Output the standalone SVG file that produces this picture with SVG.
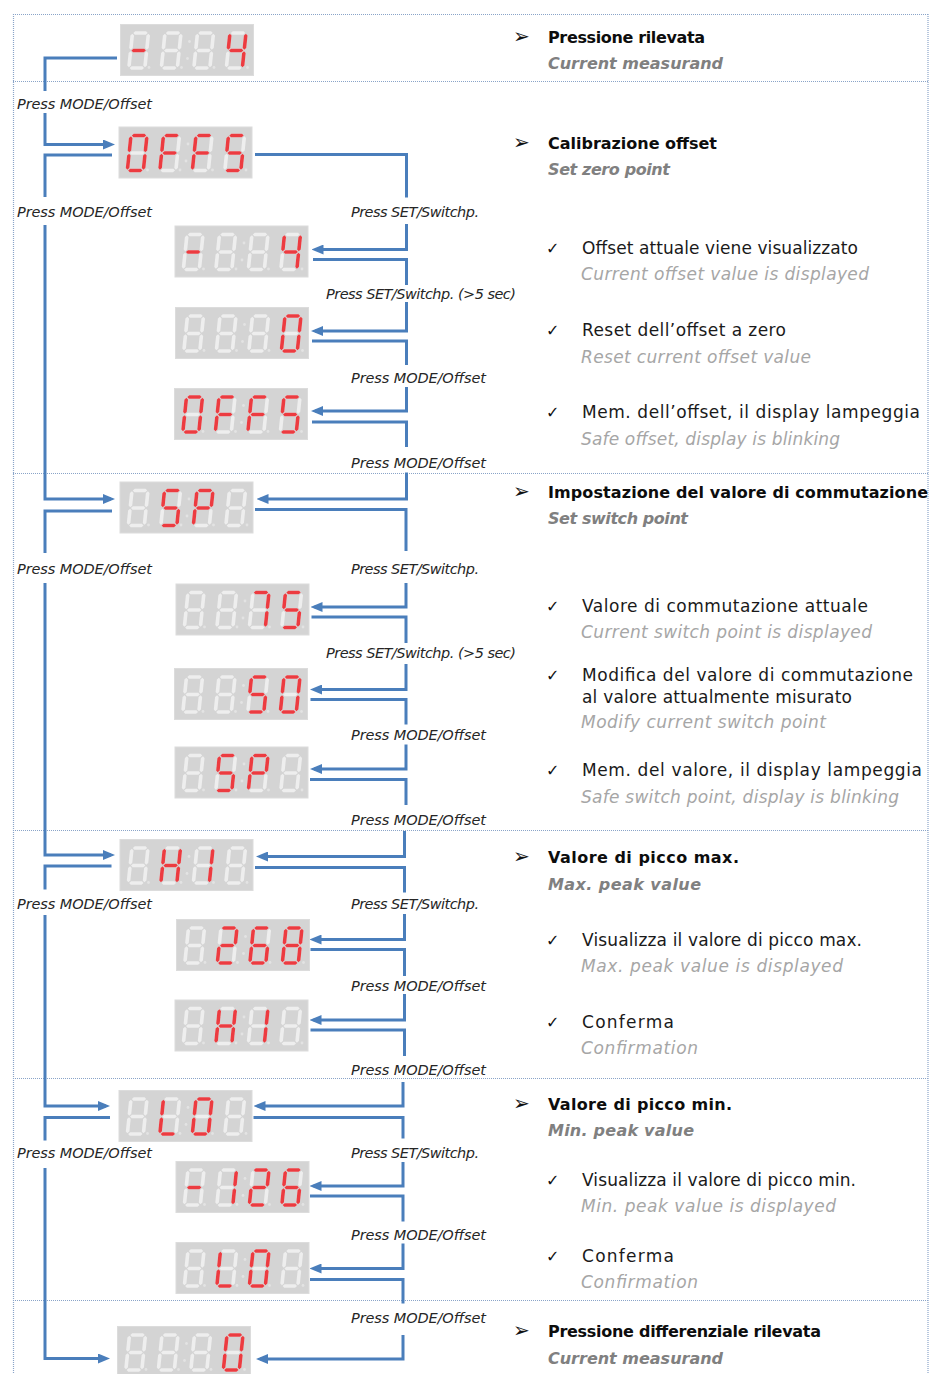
<svg xmlns="http://www.w3.org/2000/svg" xmlns:xlink="http://www.w3.org/1999/xlink" width="930" height="1374" viewBox="0 0 930 1374">
<style>
.frame{fill:none;stroke:#8aa4c8;stroke-width:1.2;stroke-dasharray:1 1}
.cn{fill:none;stroke:#4a7ebb;stroke-width:3}
.cn.ar{marker-end:url(#ah)}
.panel{fill:#d4d4d4;stroke:#dcdcdc;stroke-width:1}
.lbl{font-family:"DejaVu Sans","Liberation Sans",sans-serif;font-style:italic;font-size:14.5px;fill:#262626}
.hd{font-family:"DejaVu Sans","Liberation Sans",sans-serif;font-weight:bold;font-size:16px;fill:#0d0d0d}
.sub{font-family:"DejaVu Sans","Liberation Sans",sans-serif;font-weight:bold;font-style:italic;font-size:16px;fill:#808080}
.it{font-family:"DejaVu Sans","Liberation Sans",sans-serif;font-size:17px;fill:#1a1a1a}
.en{font-family:"DejaVu Sans","Liberation Sans",sans-serif;font-style:italic;font-size:17px;fill:#a6a6a6}
.bul{font-family:"DejaVu Sans",sans-serif;font-size:20px;fill:#111}
.chk{font-family:"DejaVu Sans",sans-serif;font-size:16px;fill:#111}
</style>
<defs>
<marker id="ah" viewBox="0 0 12 10" refX="8" refY="5" markerWidth="12" markerHeight="10" markerUnits="userSpaceOnUse" orient="auto"><path d="M0,0 L12,5 L0,10 z" fill="#4a7ebb"/></marker>
<polygon id="H" points="0.8,0 2.6,-1.8 13.4,-1.8 15.2,0 13.4,1.8 2.6,1.8"/>
<polygon id="V" points="0,0.8 1.8,2.6 1.8,14.9 0,16.7 -1.8,14.9 -1.8,2.6"/>
<use id="sA" href="#H"/>
<use id="sB" href="#V" transform="translate(16,0)"/>
<use id="sC" href="#V" transform="translate(16,17.5)"/>
<use id="sD" href="#H" transform="translate(0,35)"/>
<use id="sE" href="#V" transform="translate(0,17.5)"/>
<use id="sF" href="#V"/>
<use id="sG" href="#H" transform="translate(0,17.5)"/>
<g id="g8" fill="#eeeeee"><use href="#sA"/><use href="#sB"/><use href="#sC"/><use href="#sD"/><use href="#sE"/><use href="#sF"/><use href="#sG"/></g>
<g id="kM" fill="#ec3b40"><use href="#sG"/></g>
<g id="k4" fill="#ec3b40"><use href="#sF"/><use href="#sG"/><use href="#sB"/><use href="#sC"/></g>
<g id="k0" fill="#ec3b40"><use href="#sA"/><use href="#sB"/><use href="#sC"/><use href="#sD"/><use href="#sE"/><use href="#sF"/></g>
<g id="kF" fill="#ec3b40"><use href="#sA"/><use href="#sF"/><use href="#sE"/><use href="#sG"/></g>
<g id="kS" fill="#ec3b40"><use href="#sA"/><use href="#sF"/><use href="#sG"/><use href="#sC"/><use href="#sD"/></g>
<g id="kP" fill="#ec3b40"><use href="#sA"/><use href="#sB"/><use href="#sF"/><use href="#sG"/><use href="#sE"/></g>
<g id="k7" fill="#ec3b40"><use href="#sA"/><use href="#sB"/><use href="#sC"/></g>
<g id="kH" fill="#ec3b40"><use href="#sF"/><use href="#sE"/><use href="#sB"/><use href="#sC"/><use href="#sG"/></g>
<g id="k1" fill="#ec3b40"><use href="#sB"/><use href="#sC"/></g>
<g id="k2" fill="#ec3b40"><use href="#sA"/><use href="#sB"/><use href="#sG"/><use href="#sE"/><use href="#sD"/></g>
<g id="k6" fill="#ec3b40"><use href="#sA"/><use href="#sF"/><use href="#sG"/><use href="#sE"/><use href="#sD"/><use href="#sC"/></g>
<g id="k8" fill="#ec3b40"><use href="#sA"/><use href="#sB"/><use href="#sC"/><use href="#sD"/><use href="#sE"/><use href="#sF"/><use href="#sG"/></g>
<g id="kL" fill="#ec3b40"><use href="#sF"/><use href="#sE"/><use href="#sD"/></g>
<g id="base">
<rect class="panel" x="0" y="0" width="133" height="51"/>
<g transform="translate(12,8.5) skewX(-6)"><use href="#g8"/></g>
<g transform="translate(44.5,8.5) skewX(-6)"><use href="#g8"/></g>
<g transform="translate(77,8.5) skewX(-6)"><use href="#g8"/></g>
<g transform="translate(109.5,8.5) skewX(-6)"><use href="#g8"/></g>
<g fill="#e3e3e3"><circle cx="28.5" cy="43" r="1.4"/><circle cx="61" cy="43" r="1.4"/><circle cx="93.5" cy="43" r="1.4"/><circle cx="127" cy="43" r="1.4"/><circle cx="69" cy="17" r="1.4"/><circle cx="67" cy="34" r="1.4"/></g>
</g>
</defs>

<g id="frame">
<line class="frame" x1="13" y1="14.5" x2="928" y2="14.5"/>
<line class="frame" x1="13.5" y1="14" x2="13.5" y2="1374"/>
<line class="frame" x1="928" y1="14" x2="928" y2="1374"/>
<line class="frame" x1="13" y1="81.5" x2="928" y2="81.5"/>
<line class="frame" x1="13" y1="473.5" x2="928" y2="473.5"/>
<line class="frame" x1="13" y1="830.5" x2="928" y2="830.5"/>
<line class="frame" x1="13" y1="1078.5" x2="928" y2="1078.5"/>
<line class="frame" x1="13" y1="1300.5" x2="928" y2="1300.5"/>
</g>

<g id="connectors">
<path class="cn" d="M117,58 H45 V91"/>
<path class="cn ar" d="M45,113 V144.5 H111"/>
<path class="cn" d="M112,155 H45 V197"/>
<path class="cn ar" d="M45,225 V499 H111"/>
<path class="cn" d="M255,154.5 H406.5 V197.5"/>
<path class="cn ar" d="M406.5,224 V249.5 H315.5"/>
<path class="cn" d="M313,259.5 H406.5 V285"/>
<path class="cn ar" d="M406.5,302 V331 H315"/>
<path class="cn" d="M312,341 H406.5 V365"/>
<path class="cn ar" d="M406.5,387 V411 H315"/>
<path class="cn" d="M312,422 H406.5 V447"/>
<path class="cn ar" d="M406.5,472.5 V499 H260.5"/>
<path class="cn" d="M112,511 H45 V553"/>
<path class="cn ar" d="M45,583 V855 H111"/>
<path class="cn" d="M255,509.5 H406 V551"/>
<path class="cn ar" d="M406,583 V607 H314.5"/>
<path class="cn" d="M311.5,617 H406 V643"/>
<path class="cn ar" d="M406,664 V689.5 H314"/>
<path class="cn" d="M310.5,699.5 H406 V724.5"/>
<path class="cn ar" d="M406,744.5 V769 H314"/>
<path class="cn" d="M310,779.5 H406 V805"/>
<path class="cn ar" d="M404.5,831 V856.5 H260"/>
<path class="cn" d="M111.5,866 H45 V889.5"/>
<path class="cn ar" d="M45,915 V1106 H106"/>
<path class="cn" d="M255,867.5 H404.5 V892.5"/>
<path class="cn ar" d="M404.5,914 V939.5 H313.5"/>
<path class="cn" d="M310.5,949.5 H404.5 V976"/>
<path class="cn ar" d="M404.5,994 V1020 H313.5"/>
<path class="cn" d="M310.5,1030 H404.5 V1056"/>
<path class="cn ar" d="M403,1082 V1106 H257.5"/>
<path class="cn" d="M110,1117.5 H45 V1140.5"/>
<path class="cn ar" d="M45,1168 V1358.5 H106"/>
<path class="cn" d="M253.5,1117.5 H403 V1138.5"/>
<path class="cn ar" d="M403,1162 V1186 H313.5"/>
<path class="cn" d="M310,1196 H403 V1221.5"/>
<path class="cn ar" d="M403,1243.5 V1268.5 H313.5"/>
<path class="cn" d="M310,1279.5 H403 V1303.5"/>
<path class="cn ar" d="M403,1335 V1359 H260"/>
</g>

<g id="connector-labels">
<text class="lbl" x="17" y="109" textLength="135">Press MODE/Offset</text>
<text class="lbl" x="17" y="216.5" textLength="135">Press MODE/Offset</text>
<text class="lbl" x="17" y="574" textLength="135">Press MODE/Offset</text>
<text class="lbl" x="17" y="908.5" textLength="135">Press MODE/Offset</text>
<text class="lbl" x="17" y="1157.5" textLength="135">Press MODE/Offset</text>
<text class="lbl" x="351" y="216.5" textLength="128">Press SET/Switchp.</text>
<text class="lbl" x="351" y="574" textLength="128">Press SET/Switchp.</text>
<text class="lbl" x="351" y="908.5" textLength="128">Press SET/Switchp.</text>
<text class="lbl" x="351" y="1157.5" textLength="128">Press SET/Switchp.</text>
<text class="lbl" x="326" y="299" textLength="190">Press SET/Switchp. (&gt;5 sec)</text>
<text class="lbl" x="326" y="657.5" textLength="190">Press SET/Switchp. (&gt;5 sec)</text>
<text class="lbl" x="351" y="382.5" textLength="135">Press MODE/Offset</text>
<text class="lbl" x="351" y="467.5" textLength="135">Press MODE/Offset</text>
<text class="lbl" x="351" y="739.5" textLength="135">Press MODE/Offset</text>
<text class="lbl" x="351" y="825" textLength="135">Press MODE/Offset</text>
<text class="lbl" x="351" y="991" textLength="135">Press MODE/Offset</text>
<text class="lbl" x="351" y="1074.5" textLength="135">Press MODE/Offset</text>
<text class="lbl" x="351" y="1239.5" textLength="135">Press MODE/Offset</text>
<text class="lbl" x="351" y="1322.5" textLength="135">Press MODE/Offset</text>
</g>

<g id="display-measurand" transform="translate(120.5,24.5)"><use href="#base"/>
<g transform="translate(12,8.5) skewX(-6)"><use href="#kM"/></g>
<g transform="translate(109.5,8.5) skewX(-6)"><use href="#k4"/></g></g>

<g id="display-offs" transform="translate(119,127)"><use href="#base"/>
<g transform="translate(12,8.5) skewX(-6)"><use href="#k0"/></g>
<g transform="translate(44.5,8.5) skewX(-6)"><use href="#kF"/></g>
<g transform="translate(77,8.5) skewX(-6)"><use href="#kF"/></g>
<g transform="translate(109.5,8.5) skewX(-6)"><use href="#kS"/></g></g>

<g id="display-offset-value" transform="translate(175,226)"><use href="#base"/>
<g transform="translate(12,8.5) skewX(-6)"><use href="#kM"/></g>
<g transform="translate(109.5,8.5) skewX(-6)"><use href="#k4"/></g></g>

<g id="display-offset-zero" transform="translate(175.5,307.5)"><use href="#base"/>
<g transform="translate(109.5,8.5) skewX(-6)"><use href="#k0"/></g></g>

<g id="display-offs-save" transform="translate(174.5,388.5)"><use href="#base"/>
<g transform="translate(12,8.5) skewX(-6)"><use href="#k0"/></g>
<g transform="translate(44.5,8.5) skewX(-6)"><use href="#kF"/></g>
<g transform="translate(77,8.5) skewX(-6)"><use href="#kF"/></g>
<g transform="translate(109.5,8.5) skewX(-6)"><use href="#kS"/></g></g>

<g id="display-sp" transform="translate(120,482)"><use href="#base"/>
<g transform="translate(44.5,8.5) skewX(-6)"><use href="#kS"/></g>
<g transform="translate(77,8.5) skewX(-6)"><use href="#kP"/></g></g>

<g id="display-sp-75" transform="translate(176,584)"><use href="#base"/>
<g transform="translate(77,8.5) skewX(-6)"><use href="#k7"/></g>
<g transform="translate(109.5,8.5) skewX(-6)"><use href="#kS"/></g></g>

<g id="display-sp-50" transform="translate(174.5,668.5)"><use href="#base"/>
<g transform="translate(77,8.5) skewX(-6)"><use href="#kS"/></g>
<g transform="translate(109.5,8.5) skewX(-6)"><use href="#k0"/></g></g>

<g id="display-sp-save" transform="translate(175,747)"><use href="#base"/>
<g transform="translate(44.5,8.5) skewX(-6)"><use href="#kS"/></g>
<g transform="translate(77,8.5) skewX(-6)"><use href="#kP"/></g></g>

<g id="display-hi" transform="translate(120,839.5)"><use href="#base"/>
<g transform="translate(44.5,8.5) skewX(-6)"><use href="#kH"/></g>
<g transform="translate(77,8.5) skewX(-6)"><use href="#k1"/></g></g>

<g id="display-hi-268" transform="translate(176.5,919.5)"><use href="#base"/>
<g transform="translate(44.5,8.5) skewX(-6)"><use href="#k2"/></g>
<g transform="translate(77,8.5) skewX(-6)"><use href="#k6"/></g>
<g transform="translate(109.5,8.5) skewX(-6)"><use href="#k8"/></g></g>

<g id="display-hi-confirm" transform="translate(175,1000)"><use href="#base"/>
<g transform="translate(44.5,8.5) skewX(-6)"><use href="#kH"/></g>
<g transform="translate(77,8.5) skewX(-6)"><use href="#k1"/></g></g>

<g id="display-lo" transform="translate(119,1090.5)"><use href="#base"/>
<g transform="translate(44.5,8.5) skewX(-6)"><use href="#kL"/></g>
<g transform="translate(77,8.5) skewX(-6)"><use href="#k0"/></g></g>

<g id="display-lo-126" transform="translate(176,1161.5)"><use href="#base"/>
<g transform="translate(12,8.5) skewX(-6)"><use href="#kM"/></g>
<g transform="translate(44.5,8.5) skewX(-6)"><use href="#k1"/></g>
<g transform="translate(77,8.5) skewX(-6)"><use href="#k2"/></g>
<g transform="translate(109.5,8.5) skewX(-6)"><use href="#k6"/></g></g>

<g id="display-lo-confirm" transform="translate(176,1242.5)"><use href="#base"/>
<g transform="translate(44.5,8.5) skewX(-6)"><use href="#kL"/></g>
<g transform="translate(77,8.5) skewX(-6)"><use href="#k0"/></g></g>

<g id="display-diff" transform="translate(117.5,1326.5)"><use href="#base"/>
<g transform="translate(109.5,8.5) skewX(-6)"><use href="#k0"/></g></g>

<g id="text-measurand">
<text class="bul" x="513" y="43">➢</text>
<text class="hd" x="548" y="43" textLength="157">Pressione rilevata</text>
<text class="sub" x="548" y="69" textLength="175">Current measurand</text>
</g>
<g id="text-offset">
<text class="bul" x="513" y="149">➢</text>
<text class="hd" x="548" y="149" textLength="169">Calibrazione offset</text>
<text class="sub" x="548" y="175" textLength="122">Set zero point</text>
<text class="chk" x="546" y="254">✓</text>
<text class="it" x="582" y="254" textLength="276">Offset attuale viene visualizzato</text>
<text class="en" x="581" y="280" textLength="288">Current offset value is displayed</text>
<text class="chk" x="546" y="336">✓</text>
<text class="it" x="582" y="336" textLength="204">Reset dell’offset a zero</text>
<text class="en" x="581" y="363" textLength="230">Reset current offset value</text>
<text class="chk" x="546" y="418">✓</text>
<text class="it" x="582" y="418" textLength="338">Mem. dell’offset, il display lampeggia</text>
<text class="en" x="581" y="445" textLength="259">Safe offset, display is blinking</text>
</g>
<g id="text-switchpoint">
<text class="bul" x="513" y="498">➢</text>
<text class="hd" x="548" y="498" textLength="380">Impostazione del valore di commutazione</text>
<text class="sub" x="548" y="524" textLength="140">Set switch point</text>
<text class="chk" x="546" y="612">✓</text>
<text class="it" x="582" y="612" textLength="286">Valore di commutazione attuale</text>
<text class="en" x="581" y="638" textLength="291">Current switch point is displayed</text>
<text class="chk" x="546" y="681">✓</text>
<text class="it" x="582" y="681" textLength="331">Modifica del valore di commutazione</text>
<text class="it" x="582" y="703" textLength="270">al valore attualmente misurato</text>
<text class="en" x="581" y="728" textLength="245">Modify current switch point</text>
<text class="chk" x="546" y="776">✓</text>
<text class="it" x="582" y="776" textLength="340">Mem. del valore, il display lampeggia</text>
<text class="en" x="581" y="803" textLength="318">Safe switch point, display is blinking</text>
</g>
<g id="text-max">
<text class="bul" x="513" y="863">➢</text>
<text class="hd" x="548" y="863" textLength="191">Valore di picco max.</text>
<text class="sub" x="548" y="890" textLength="153">Max. peak value</text>
<text class="chk" x="546" y="946">✓</text>
<text class="it" x="582" y="946" textLength="280">Visualizza il valore di picco max.</text>
<text class="en" x="581" y="972" textLength="262">Max. peak value is displayed</text>
<text class="chk" x="546" y="1028">✓</text>
<text class="it" x="582" y="1028" textLength="92">Conferma</text>
<text class="en" x="581" y="1054" textLength="117">Confirmation</text>
</g>
<g id="text-min">
<text class="bul" x="513" y="1110">➢</text>
<text class="hd" x="548" y="1110" textLength="184">Valore di picco min.</text>
<text class="sub" x="548" y="1136" textLength="146">Min. peak value</text>
<text class="chk" x="546" y="1186">✓</text>
<text class="it" x="582" y="1186" textLength="274">Visualizza il valore di picco min.</text>
<text class="en" x="581" y="1212" textLength="255">Min. peak value is displayed</text>
<text class="chk" x="546" y="1262">✓</text>
<text class="it" x="582" y="1262" textLength="92">Conferma</text>
<text class="en" x="581" y="1288" textLength="117">Confirmation</text>
</g>
<g id="text-differential">
<text class="bul" x="513" y="1337">➢</text>
<text class="hd" x="548" y="1337" textLength="273">Pressione differenziale rilevata</text>
<text class="sub" x="548" y="1364" textLength="175">Current measurand</text>
</g>
</svg>
